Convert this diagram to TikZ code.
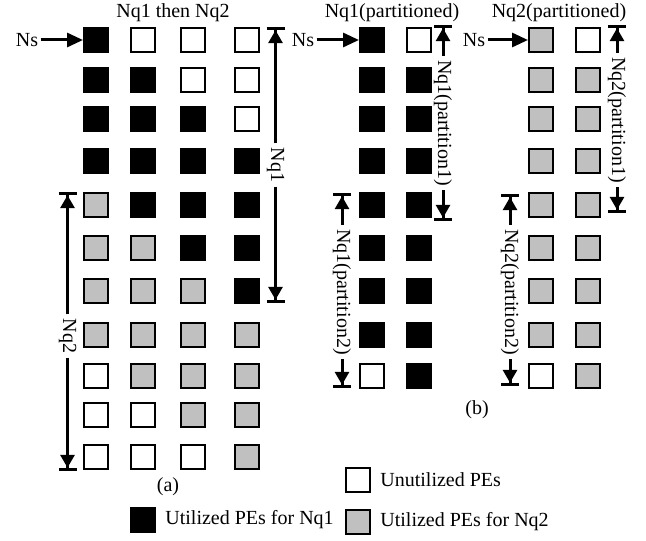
\documentclass[tikz,border=0pt]{standalone}
\usepackage{fontspec}
\setmainfont{Liberation Serif}
\usetikzlibrary{positioning,arrows.meta}
\definecolor{pq2}{RGB}{192,192,192}
\colorlet{pq1}{black}
\colorlet{pno}{white}
\tikzset{
	pe/.style={draw, line width=1.2pt, minimum size=11.8pt, inner sep=0pt},
	dimlab/.style={rotate=-90, inner sep=2pt},
	dimline/.style={line width=1.5pt, -{Triangle[length=6.5pt,width=7pt,sep=0pt]Bar[width=9pt,line width=1.6pt]}},
	nsline/.style={line width=1.5pt, -{Triangle[length=8pt,width=7pt]}},
}

\begin{document}
\begin{tikzpicture}[x=0.5pt, y=-0.5pt]
	\useasboundingbox (0,0) rectangle (646,540);
	\tikzstyle{every node}=[align=center, inner sep=1pt]

	\foreach \y/\ca/\cb/\cc/\cd [count=\r] in {40/pq1/pno/pno/pno, 80/pq1/pq1/pno/pno, 119/pq1/pq1/pq1/pno, 161/pq1/pq1/pq1/pq1, 205/pq2/pq1/pq1/pq1, 248/pq2/pq2/pq1/pq1, 291/pq2/pq2/pq2/pq1, 335/pq2/pq2/pq2/pq2, 376/pno/pq2/pq2/pq2, 415/pno/pno/pq2/pq2, 457/pno/pno/pno/pq2} {
		\node[pe, fill=\ca] (a-\r-1) at (96, \y) {};
		\node[pe, fill=\cb] (a-\r-2) at (143, \y) {};
		\node[pe, fill=\cc] (a-\r-3) at (193, \y) {};
		\node[pe, fill=\cd] (a-\r-4) at (247, \y) {};
	}
	\foreach \y/\ca/\cb/\cc/\cd [count=\r] in {40/pq1/pno/pq2/pno, 80/pq1/pq1/pq2/pq2, 119/pq1/pq1/pq2/pq2, 161/pq1/pq1/pq2/pq2, 205/pq1/pq1/pq2/pq2, 248/pq1/pq1/pq2/pq2, 291/pq1/pq1/pq2/pq2, 335/pq1/pq1/pq2/pq2, 376/pno/pq1/pno/pq2} {
		\node[pe, fill=\ca] (b-\r-1) at (372, \y) {};
		\node[pe, fill=\cb] (b-\r-2) at (419, \y) {};
		\node[pe, fill=\cc] (b-\r-3) at (541, \y) {};
		\node[pe, fill=\cd] (b-\r-4) at (588, \y) {};
	}

	\node (titlea) at (173, 13) {Nq1 then Nq2};
	\node (titleb1) at (392, 13) {Nq1(partitioned)};
	\node (titleb2) at (559, 13) {Nq2(partitioned)};
	\node (capa) at (168, 487) {(a)};
	\node (capb) at (477, 410) {(b)};

	\node (nsa) at (27, 40) {Ns};
	\node (nsb1) at (303, 40) {Ns};
	\node (nsb2) at (474, 40) {Ns};
	\draw[nsline] (nsa) -- (a-1-1);
	\draw[nsline] (nsb1) -- (b-1-1);
	\draw[nsline] (nsb2) -- (b-1-3);

	\coordinate (nq1top) at (275.5, 27);
	\coordinate (nq1bot) at (275.5, 303);
	\node[dimlab] (nq1) at (275.5, 165) {Nq1};
	\draw[dimline] (nq1) -- (nq1top);
	\draw[dimline] (nq1) -- (nq1bot);

	\coordinate (nq2top) at (67.5, 192);
	\coordinate (nq2bot) at (67.5, 471);
	\node[dimlab] (nq2) at (67.5, 336) {Nq2};
	\draw[dimline] (nq2) -- (nq2top);
	\draw[dimline] (nq2) -- (nq2bot);

	\coordinate (p11top) at (443, 25);
	\coordinate (p11bot) at (443, 221);
	\node[dimlab] (p11) at (443, 123) {Nq1(partition1)};
	\draw[dimline] (p11) -- (p11top);
	\draw[dimline] (p11) -- (p11bot);

	\coordinate (p12top) at (342, 193);
	\coordinate (p12bot) at (342, 388);
	\node[dimlab] (p12) at (342, 292) {Nq1(partition2)};
	\draw[dimline] (p12) -- (p12top);
	\draw[dimline] (p12) -- (p12bot);

	\coordinate (p21top) at (617, 25);
	\coordinate (p21bot) at (617, 213);
	\node[dimlab] (p21) at (617, 120) {Nq2(partition1)};
	\draw[dimline] (p21) -- (p21top);
	\draw[dimline] (p21) -- (p21bot);

	\coordinate (p22top) at (510, 194);
	\coordinate (p22bot) at (510, 386);
	\node[dimlab] (p22) at (510, 292) {Nq2(partition2)};
	\draw[dimline] (p22) -- (p22top);
	\draw[dimline] (p22) -- (p22bot);

	\node[pe, fill=pno] (keyno) at (358, 480) {};
	\node[pe, fill=pq2] (keyq2) at (358, 522) {};
	\node[pe, fill=pq1] (keyq1) at (143, 520) {};
	\node[right=3.5pt of keyno] (txtno) {Unutilized PEs};
	\node[right=3.5pt of keyq2] (txtq2) {Utilized PEs for Nq2};
	\node[right=3.5pt of keyq1] (txtq1) {Utilized PEs for Nq1};
\end{tikzpicture}
\end{document}
